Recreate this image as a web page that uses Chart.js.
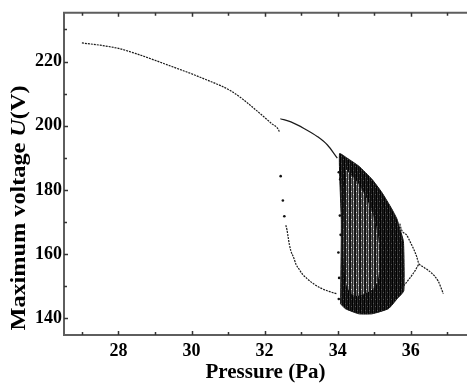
<!DOCTYPE html>
<html>
<head>
<meta charset="utf-8">
<script src="https://cdn.jsdelivr.net/npm/chart.js@4.4.1/dist/chart.umd.min.js"></script>
<style>
  html, body { margin: 0; padding: 0; background: #fff; }
  #wrap { width: 467px; height: 389px; }
</style>
</head>
<body>
<div id="wrap"><canvas id="chart" width="467" height="389"></canvas></div>
<script>
// ----------------------
// Ticks
// ----------------------
const pressureTicks = [28, 30, 32, 34, 36];
const pressureMinor = [27, 29, 31, 33, 35, 37];
const voltageTicks = [140, 160, 180, 200, 220];
const voltageMinor = [150, 170, 190, 210, 230];

// ----------------------
// Data (Pa, V)
// ----------------------
// period-1 branch, left
const mainP = [27.0, 27.5, 28.0, 28.5, 29.0, 29.5, 30.0, 30.5, 30.8, 31.1, 31.4, 31.7, 32.0, 32.2, 32.38, 32.41];
const mainU = [225.8, 225.1, 224.1, 222.4, 220.4, 218.3, 216.2, 213.9, 212.5, 210.7, 208.3, 205.5, 202.6, 200.6, 198.8, 197.9];

// upper branch after the jump
const upperP = [32.43, 32.72, 33.09, 33.45, 33.72, 33.99];
const upperU = [202.2, 201.2, 199.1, 196.6, 194.0, 189.9];

// lower branch after the jump
const lowerP = [32.58, 32.61, 32.65, 32.68, 32.72, 32.80, 32.86, 32.95, 33.04, 33.18, 33.36, 33.54, 33.76, 33.99];
const lowerU = [169.0, 167.7, 164.9, 162.9, 161.0, 158.8, 156.8, 155.2, 153.7, 152.2, 150.6, 149.4, 148.4, 147.6];

// loose points
const looseP = [32.44, 32.50, 32.54, 34.03, 34.07, 34.15, 34.04, 34.08, 34.02, 34.06, 34.03];
const looseU = [184.3, 176.7, 171.8, 185.5, 183.3, 181.9, 152.6, 166.0, 160.5, 172.0, 146.0];

// chaotic band outline
const chaosP = [34.08, 34.10, 34.05, 34.26, 34.58, 34.94, 35.21, 35.48, 35.62, 35.70, 35.80, 35.81, 35.62, 35.39, 34.94, 34.58, 34.21, 34.08];
const chaosU = [144.5, 170.0, 191.3, 189.9, 187.4, 183.3, 179.2, 174.1, 171.0, 168.0, 163.9, 148.6, 146.0, 143.0, 141.4, 141.4, 143.0, 144.5];

// lighter speckled core of the band
const coreP = [34.22, 34.60, 34.90, 35.10, 35.15, 35.00, 34.45, 34.20, 34.18, 34.22];
const coreU = [186.5, 181.5, 174.5, 166.0, 156.0, 149.5, 147.0, 152.0, 178.0, 186.5];

// period-2 arms on the right and the tail
const armUpP = [35.70, 35.75, 35.89, 35.98, 36.07, 36.16, 36.22];
const armUpU = [169.5, 167.5, 165.9, 163.9, 161.8, 159.3, 156.9];
const armLowP = [35.75, 35.84, 35.98, 36.11, 36.22];
const armLowU = [149.4, 150.6, 152.6, 154.7, 156.9];
const tailP = [36.22, 36.38, 36.56, 36.75, 36.89];
const tailU = [156.9, 155.7, 154.2, 151.6, 147.7];

const pts = (xs, ys) => xs.map((x, i) => ({ x, y: ys[i] }));

const serif = "'Liberation Serif', 'Times New Roman', serif";

// speckled vertical-stripe texture for the dense band
function stripes(colors, speck) {
  const c = document.createElement("canvas");
  c.width = colors.length; c.height = 7;
  const g = c.getContext("2d");
  colors.forEach((col, i) => { g.fillStyle = col; g.fillRect(i, 0, 1, 7); });
  g.fillStyle = speck;
  g.fillRect(1, 2, 1, 1);
  g.fillRect(3, 5, 1, 1);
  return g.createPattern(c, "repeat");
}
const coreFill = stripes(["#111", "#6a6a6a", "#262626", "#8a8a8a", "#1a1a1a"], "#e0e0e0");
const bandFill = stripes(["#000", "#2c2c2c", "#0a0a0a", "#1c1c1c"], "#555");

function curve(xs, ys, extra) {
  return Object.assign({
    type: "line",
    data: pts(xs, ys),
    borderColor: "#1a1a1a",
    backgroundColor: "#1a1a1a",
    borderWidth: 1.2,
    borderDash: [2, 1],
    pointRadius: 0,
    fill: false,
    cubicInterpolationMode: "monotone",
    order: 1
  }, extra || {});
}

// ----------------------
// Frame, inner ticks and axis titles
// ----------------------
const framePlugin = {
  id: "frame",
  afterDraw(chart) {
    const { ctx, chartArea: a, scales } = chart;
    const xs = scales.x, ys = scales.y;
    ctx.save();
    ctx.strokeStyle = "#5e5e5e";
    ctx.lineWidth = 2;
    ctx.beginPath();
    ctx.moveTo(chart.width + 2, a.top);
    ctx.lineTo(a.left, a.top);
    ctx.lineTo(a.left, a.bottom);
    ctx.lineTo(chart.width + 2, a.bottom);
    ctx.stroke();

    ctx.lineWidth = 1.5;
    ctx.strokeStyle = "#333";
    ctx.beginPath();
    pressureTicks.concat(pressureMinor).forEach(v => {
      const px = Math.round(xs.getPixelForValue(v)) + 0.5;
      const len = pressureTicks.includes(v) ? 4 : 3;
      ctx.moveTo(px, a.bottom); ctx.lineTo(px, a.bottom - len);
      ctx.moveTo(px, a.top); ctx.lineTo(px, a.top + len);
    });
    voltageTicks.concat(voltageMinor).forEach(v => {
      const py = Math.round(ys.getPixelForValue(v)) + 0.5;
      const len = voltageTicks.includes(v) ? 4 : 3;
      ctx.moveTo(a.left, py); ctx.lineTo(a.left + len, py);
    });
    ctx.stroke();

    // x title
    ctx.fillStyle = "#000";
    ctx.font = "bold 21px " + serif;
    ctx.textAlign = "center";
    ctx.textBaseline = "middle";
    ctx.fillText("Pressure (Pa)", (a.left + a.right) / 2 + 2, 373);

    // y title, italic U
    const parts = [
      ["bold 20px " + serif, "Maximum voltage "],
      ["italic bold 20px " + serif, "U"],
      ["bold 20px " + serif, "(V)"]
    ];
    let total = 0;
    parts.forEach(p => { ctx.font = p[0]; total += ctx.measureText(p[1]).width; });
    const stretch = 245 / total;
    ctx.translate(20, 208);
    ctx.rotate(-Math.PI / 2);
    ctx.scale(stretch, 1);
    ctx.textAlign = "left";
    let x0 = -total / 2;
    parts.forEach(p => {
      ctx.font = p[0];
      ctx.fillText(p[1], x0, 0);
      x0 += ctx.measureText(p[1]).width;
    });
    ctx.restore();
  }
};

new Chart(document.getElementById("chart"), {
  type: "scatter",
  data: {
    datasets: [
      curve(mainP, mainU),
      curve(upperP, upperU, { borderDash: [] }),
      curve(lowerP, lowerU),
      curve(armUpP, armUpU),
      curve(armLowP, armLowU),
      curve(tailP, tailU),
      {
        type: "scatter",
        data: pts(looseP, looseU),
        backgroundColor: "#111",
        borderWidth: 0,
        pointRadius: 1.3,
        order: 1
      },
      {
        type: "line",
        data: pts(coreP, coreU),
        borderColor: "rgba(0,0,0,0)",
        backgroundColor: coreFill,
        borderWidth: 0,
        pointRadius: 0,
        tension: 0.3,
        fill: "shape",
        order: 4
      },
      {
        type: "line",
        data: pts(chaosP, chaosU),
        borderColor: "#111",
        backgroundColor: bandFill,
        borderWidth: 1,
        pointRadius: 0,
        tension: 0.15,
        fill: "shape",
        order: 5
      }
    ]
  },
  options: {
    responsive: false,
    animation: false,
    layout: { padding: { top: 7, right: 0, left: 0, bottom: 0 } },
    plugins: {
      legend: { display: false },
      tooltip: { enabled: false }
    },
    scales: {
      x: {
        type: "linear",
        min: 26.51,
        max: 37.43,
        afterBuildTicks: s => { s.ticks = pressureTicks.map(v => ({ value: v })); },
        afterFit: s => { s.height = 54; },
        grid: { display: false, drawTicks: false },
        border: { display: false },
        ticks: {
          color: "#000",
          padding: 6,
          maxRotation: 0,
          font: { family: serif, size: 18, weight: "bold" }
        }
      },
      y: {
        type: "linear",
        min: 134.8,
        max: 235.2,
        afterBuildTicks: s => { s.ticks = voltageTicks.map(v => ({ value: v })); },
        afterFit: s => { s.width = 64; },
        grid: { display: false, drawTicks: false },
        border: { display: false },
        ticks: {
          color: "#000",
          padding: 2,
          font: { family: serif, size: 18, weight: "bold" }
        }
      }
    }
  },
  plugins: [framePlugin]
});
</script>
</body>
</html>
